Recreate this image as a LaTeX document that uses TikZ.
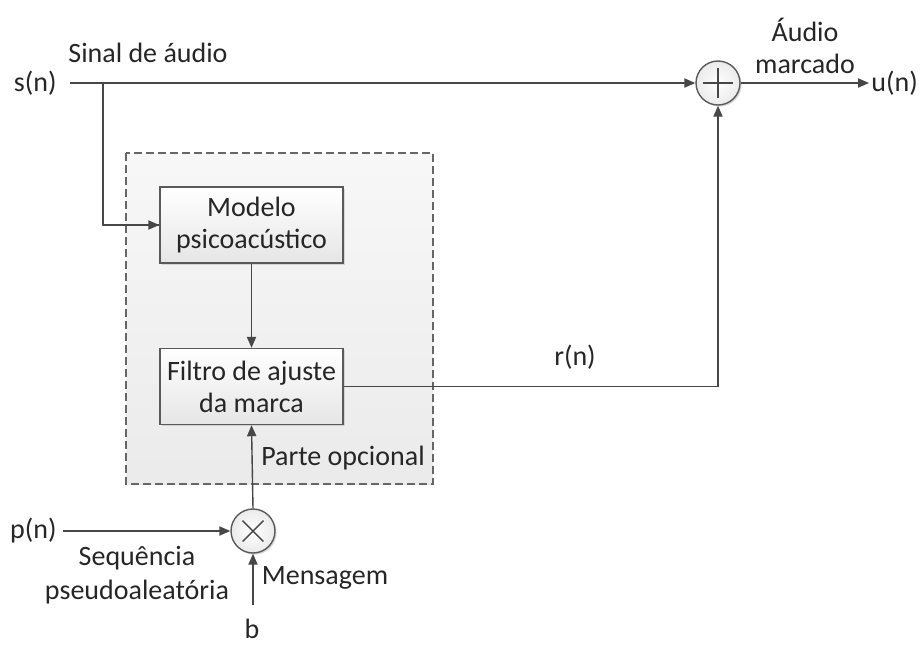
\documentclass[tikz,border=0pt]{standalone}
\usepackage{fontspec}
\setmainfont{Carlito}
\usetikzlibrary{arrows.meta,shadows,positioning}
\definecolor{wire}{HTML}{474747}
\definecolor{frame}{HTML}{5A5A5A}
\tikzset{
  wire/.style={draw=wire, line width=0.7pt},
  arr/.style={wire, -{Triangle[length=5.5pt,width=4.6pt]}},
  lbl/.style={font=\fontsize{14}{16}\selectfont, text=black!85, inner sep=0pt},
  blockbox/.style={draw=frame, line width=0.7pt, top color=white, bottom color=black!10,
    minimum width=91.5pt, minimum height=38pt, align=center,
    font=\fontsize{14}{17}\selectfont, text=black!85,
    drop shadow={shadow xshift=0.8pt, shadow yshift=-0.8pt, opacity=0.25}},
  opbox/.style={draw=frame, line width=0.7pt, circle, minimum size=22pt, inner sep=0pt,
    inner color=white, outer color=black!8,
    drop shadow={shadow xshift=0.8pt, shadow yshift=-0.8pt, opacity=0.3}},
  optarea/.style={draw=black!60, line width=0.7pt, dash pattern=on 4pt off 2pt,
    top color=black!3, bottom color=black!8},
}
\begin{document}
\begin{tikzpicture}[x=0.5pt,y=-0.5pt]
  \useasboundingbox (0,0) rectangle (920,644);

  % optional processing area
  \path[optarea] (126,153) rectangle (433,484);
  \node[lbl] (opt) at (343,458) {Parte opcional};

  % blocks
  \node[blockbox] (psy) at (251.5,225) {Modelo\\[-1pt]psicoacústico};
  \node[blockbox] (filt) at (251.5,386.5) {Filtro de ajuste\\[-1pt]da marca};

  % adder and multiplier
  \node[opbox] (add) at (718,83) {};
  \draw[wire] ([xshift=-7.5pt]add.center) -- ([xshift=7.5pt]add.center)
              ([yshift=-7.5pt]add.center) -- ([yshift=7.5pt]add.center);
  \node[opbox] (mul) at (253,531) {};
  \draw[wire] ([shift={(-5.2pt,-5.2pt)}]mul.center) -- ([shift={(5.2pt,5.2pt)}]mul.center)
              ([shift={(-5.2pt,5.2pt)}]mul.center) -- ([shift={(5.2pt,-5.2pt)}]mul.center);

  % terminals
  \node[lbl, anchor=east, inner xsep=6.5pt] (sn) at (70,83) {s(n)};
  \node[lbl, anchor=west, inner xsep=1pt] (un) at (869,83) {u(n)};
  \node[lbl, anchor=east, inner xsep=3pt] (pn) at (63,531) {p(n)};
  \node[lbl] (b) at (252,629) {b};
  \coordinate (bsrc) at (253,605);

  % signal labels
  \node[lbl] (sinal) at (148,53) {Sinal de áudio};
  \node[lbl, align=center, font=\fontsize{14}{16}\selectfont] (marcado) at (805,46) {Áudio\\marcado};
  \node[lbl] (rn) at (575,357) {r(n)};
  \node[lbl, align=center, font=\fontsize{14}{17}\selectfont] (seq) at (137,575) {Sequência\\pseudoaleatória};
  \node[lbl] (msg) at (325,578) {Mensagem};

  % branch points
  \coordinate (tap) at (103,83);
  \coordinate (rcorner) at (718,386.5);

  % connections
  \draw[arr] (sn.east) -- (add.west);
  \draw[wire] (tap) |- (psy.west);
  \draw[arr] (tap |- psy.west) -- (psy.west);
  \draw[arr] (psy.south) -- (filt.north);
  \draw[wire] (filt.east) -- (rcorner);
  \draw[arr] (rcorner) -- (add.south);
  \draw[arr] (add.east) -- (un.west);
  \draw[arr] (pn.east) -- (mul.west);
  \draw[arr] (bsrc) -- (mul.south);
  \draw[arr] (mul.north) -- (filt.south);
\end{tikzpicture}
\end{document}
